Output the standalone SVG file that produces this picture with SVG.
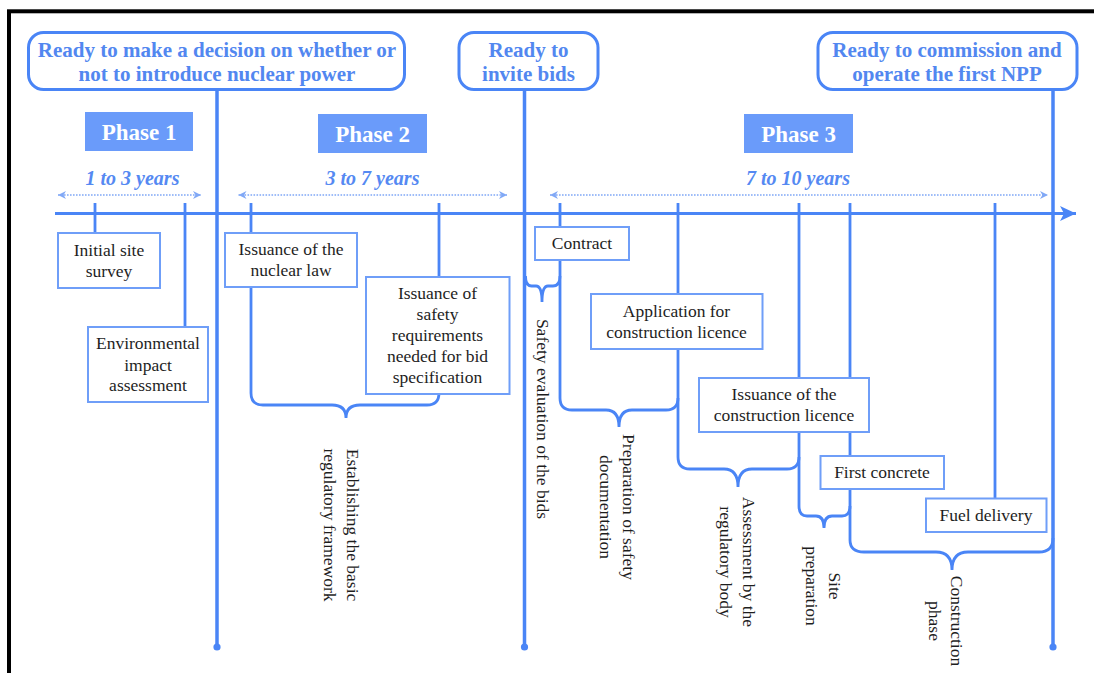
<svg xmlns="http://www.w3.org/2000/svg" width="1094" height="673" viewBox="0 0 1094 673">
<style>
.main{stroke:#4a85f6;stroke-width:3.5;fill:none}
.ln{stroke:#4a85f6;stroke-width:2.8;fill:none}
.dot{stroke:#80a8f6;stroke-width:1.6;stroke-dasharray:1.6 1.4;fill:none}
.box{fill:#fff;stroke:#6f9ef8;stroke-width:2}
.hdr{fill:#fff;stroke:#4a85f6;stroke-width:3}
.ph{fill:#6a9bfa}
.t{font-family:"Liberation Serif","Times New Roman",serif;font-size:17.5px;fill:#1e1e1e;text-anchor:middle}
.h{font-family:"Liberation Serif","Times New Roman",serif;font-size:21px;font-weight:bold;fill:#5287f0;text-anchor:middle}
.pt{font-family:"Liberation Serif","Times New Roman",serif;font-size:23px;font-weight:bold;fill:#fff;text-anchor:middle}
.yr{font-family:"Liberation Serif","Times New Roman",serif;font-size:20px;font-weight:bold;font-style:italic;fill:#5589f2;text-anchor:middle}
</style>
<defs>
<marker id="da" viewBox="0 0 10 10" refX="10" refY="5" markerWidth="9" markerHeight="8" markerUnits="userSpaceOnUse" orient="auto-start-reverse">
<path d="M0,0 L10,5 L0,10 L3,5 z" fill="#80a8f6"/>
</marker>
<marker id="ax" viewBox="0 0 16 16" refX="16" refY="8" markerWidth="16" markerHeight="16" markerUnits="userSpaceOnUse" orient="auto">
<path d="M0,0.5 L16,8 L0,15.5 L4,8 z" fill="#4a85f6"/>
</marker>
</defs>
<rect x="0" y="0" width="1094" height="673" fill="#fff"/>
<rect x="9" y="11.3" width="1110" height="700" fill="#fff" stroke="#000" stroke-width="4"/>

<g id="connectors">
<path class="ln" d="M55 213.5 H1076" marker-end="url(#ax)"/>
<path class="dot" d="M58 195 H201" marker-start="url(#da)" marker-end="url(#da)"/>
<path class="dot" d="M238.5 195 H507" marker-start="url(#da)" marker-end="url(#da)"/>
<path class="dot" d="M550 195 H1048" marker-start="url(#da)" marker-end="url(#da)"/>
<path class="main" d="M217 90 V647"/>
<path class="main" d="M524.5 90 V647"/>
<path class="main" d="M1053 90 V647"/>
<circle cx="217" cy="647" r="3.6" fill="#4a85f6"/>
<circle cx="524.5" cy="647" r="3.6" fill="#4a85f6"/>
<circle cx="1053" cy="647" r="3.6" fill="#4a85f6"/>
<path class="ln" d="M95 203 V233"/>
<path class="ln" d="M185 203 V327"/>
<path class="ln" d="M251 203 V233"/>
<path class="ln" d="M251 287 V393 Q251 405 263 405 H332 Q346 405 346 418 Q346 405 360 405 H427 Q439 405 439 393"/>
<path class="ln" d="M439 203 V277"/>
<path class="ln" d="M525.5 276 Q525.5 286 531.5 286 H536 Q542 286 542 302 Q542 286 548 286 H553 Q560 286 560 276"/>
<path class="ln" d="M560 203 V227"/>
<path class="ln" d="M560 260 V398 Q560 410 572 410 H606 Q619 410 619 427 Q619 410 632 410 H666 Q678 410 678 398"/>
<path class="ln" d="M678 203 V294"/>
<path class="ln" d="M678 349 V457 Q678 469 690 469 H724 Q738 469 738 487 Q738 469 752 469 H787 Q799 469 799 457"/>
<path class="ln" d="M799 203 V378"/>
<path class="ln" d="M799 432 V506 Q799 516 807 516 H816 Q824 516 824 528 Q824 516 832 516 H842 Q850 516 850 506"/>
<path class="ln" d="M850 203 V378"/>
<path class="ln" d="M850 432 V456"/>
<path class="ln" d="M850 489 V540 Q850 552 864 552 H936 Q952 552 952 570 Q952 552 968 552 H1039 Q1053 552 1053 538"/>
<path class="ln" d="M995 203 V498"/>
</g>

<g id="milestone1">
<rect class="hdr" x="28.5" y="32.5" width="376" height="57" rx="15"/>
<text class="h" x="217" y="57">Ready to make a decision on whether or</text>
<text class="h" x="217" y="81">not to introduce nuclear power</text>
</g>
<g id="milestone2">
<rect class="hdr" x="459" y="32.5" width="139" height="57" rx="15"/>
<text class="h" x="528.5" y="57">Ready to</text>
<text class="h" x="528.5" y="81">invite bids</text>
</g>
<g id="milestone3">
<rect class="hdr" x="818" y="32.5" width="259" height="57" rx="15"/>
<text class="h" x="947" y="57">Ready to commission and</text>
<text class="h" x="947" y="81">operate the first NPP</text>
</g>

<g id="phase1">
<rect class="ph" x="85" y="112" width="108" height="39"/>
<text class="pt" x="139" y="139.5">Phase 1</text>
<text class="yr" x="132.5" y="185">1 to 3 years</text>
</g>
<g id="phase2">
<rect class="ph" x="318" y="114" width="109" height="39"/>
<text class="pt" x="372.5" y="141.5">Phase 2</text>
<text class="yr" x="372.5" y="185">3 to 7 years</text>
</g>
<g id="phase3">
<rect class="ph" x="744" y="114" width="109" height="39"/>
<text class="pt" x="798.5" y="141.5">Phase 3</text>
<text class="yr" x="798" y="185">7 to 10 years</text>
</g>

<g id="initial-site-survey">
<rect class="box" x="58" y="233" width="102" height="55"/>
<text class="t" x="109" y="255.5">Initial site</text>
<text class="t" x="109" y="277">survey</text>
</g>
<g id="environmental-impact">
<rect class="box" x="88" y="327" width="120" height="75"/>
<text class="t" x="148" y="349">Environmental</text>
<text class="t" x="148" y="370.5">impact</text>
<text class="t" x="148" y="391">assessment</text>
</g>
<g id="nuclear-law">
<rect class="box" x="225" y="233" width="132" height="54"/>
<text class="t" x="291" y="255">Issuance of the</text>
<text class="t" x="291" y="276">nuclear law</text>
</g>
<g id="safety-requirements">
<rect class="box" x="366" y="277" width="143.5" height="117"/>
<text class="t" x="437.5" y="299">Issuance of</text>
<text class="t" x="437.5" y="320">safety</text>
<text class="t" x="437.5" y="341">requirements</text>
<text class="t" x="437.5" y="362">needed for bid</text>
<text class="t" x="437.5" y="383">specification</text>
</g>
<g id="contract">
<rect class="box" x="535" y="227" width="94" height="33"/>
<text class="t" x="582" y="248.5">Contract</text>
</g>
<g id="application">
<rect class="box" x="591" y="294" width="171.5" height="55"/>
<text class="t" x="676.5" y="317">Application for</text>
<text class="t" x="676.5" y="338">construction licence</text>
</g>
<g id="construction-licence">
<rect class="box" x="699" y="378" width="170" height="54"/>
<text class="t" x="784" y="400">Issuance of the</text>
<text class="t" x="784" y="421">construction licence</text>
</g>
<g id="first-concrete">
<rect class="box" x="820.5" y="456" width="123.5" height="33"/>
<text class="t" x="882" y="477.5">First concrete</text>
</g>
<g id="fuel-delivery">
<rect class="box" x="926" y="498.5" width="120.5" height="33.5"/>
<text class="t" x="986" y="521">Fuel delivery</text>
</g>

<g id="label-regulatory-framework">
<text class="t" transform="translate(346.5,525) rotate(90)"><tspan x="0" y="0">Establishing the basic</tspan><tspan x="0" y="22.5">regulatory framework</tspan></text>
</g>
<g id="label-safety-evaluation">
<text class="t" transform="translate(537,419) rotate(90)">Safety evaluation of the bids</text>
</g>
<g id="label-preparation">
<text class="t" transform="translate(622.5,507) rotate(90)"><tspan x="0" y="0">Preparation of safety</tspan><tspan x="0" y="22.5">documentation</tspan></text>
</g>
<g id="label-assessment">
<text class="t" transform="translate(743,562) rotate(90)"><tspan x="0" y="0">Assessment  by the</tspan><tspan x="0" y="23">regulatory body</tspan></text>
</g>
<g id="label-site-preparation">
<text class="t" transform="translate(828.5,586) rotate(90)"><tspan x="0" y="0">Site</tspan><tspan x="0" y="22.5">preparation</tspan></text>
</g>
<g id="label-construction-phase">
<text class="t" transform="translate(951,621) rotate(90)"><tspan x="0" y="0">Construction</tspan><tspan x="0" y="22">phase</tspan></text>
</g>
</svg>
